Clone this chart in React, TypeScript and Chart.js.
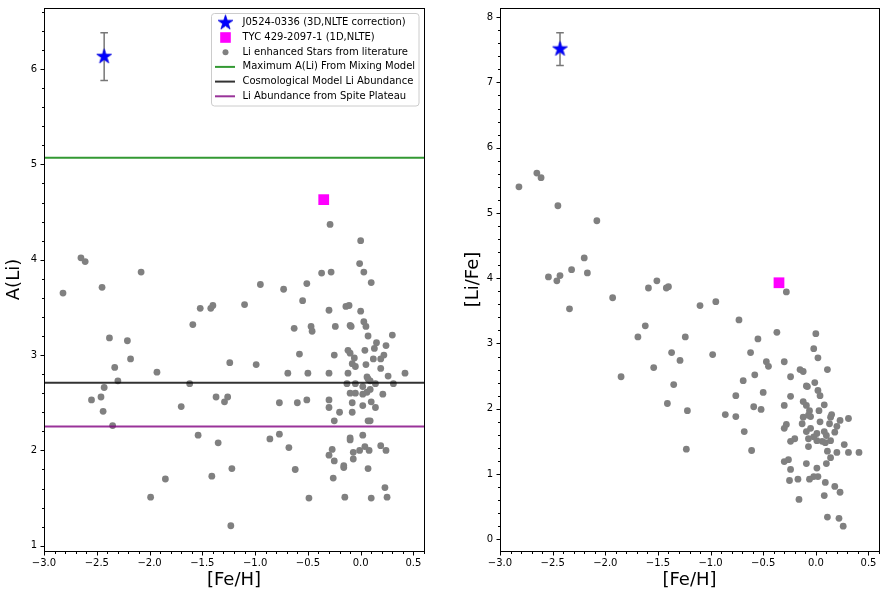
import React, { useEffect, useRef } from 'react';
import { Chart, registerables } from 'chart.js';

Chart.register(...registerables);

const FONT_FAMILY = '"DejaVu Sans", "Liberation Sans", sans-serif';

// ---------- Data ----------
// J0524-0336 (3D,NLTE correction)
const starFeH = [-2.43];
const starALi = [6.13];
const starLiFe = [7.51];
const starErr = [0.25];

// TYC 429-2097-1 (1D,NLTE)
const tycFeH = [-0.35];
const tycALi = [4.63];
const tycLiFe = [3.93];

// Li enhanced stars from literature: A(Li) vs [Fe/H]
const litFeH_ALi = [
  -2.65, -2.61, -2.08, -2.82, -2.45, -0.95, -0.73, -0.51, -0.37, -0.28,
  -0.29, 0.0, -0.01, 0.03, 0.1, -1.52, -1.59, -1.42, -1.4, -1.1,
  -0.55, -0.63, -0.47, -0.46, -0.24, -0.3, -0.14, -0.11, 0.0, 0.03,
  0.05, -0.1, -0.09, 0.07, 0.3, 0.15, 0.13, 0.24, 0.04, -0.12,
  -0.1, 0.22, 0.19, 0.12, -0.06, -0.08, -0.05, 0.05, 0.19, 0.42,
  0.26, 0.31, -0.12, -0.3, -0.5, -0.69, -0.58, -0.25, -0.99, -1.24,
  -1.93, -1.62, -2.3, -2.33, -2.18, -2.21, -2.38, -2.43, -2.55, -2.46,
  -2.44, -2.35, -1.7, -1.37, -1.26, -1.29, -0.77, -0.6, -0.51, -0.3,
  -0.3, -0.2, -0.25, -0.13, -0.05, 0.02, 0.06, 0.07, 0.09, 0.14,
  0.09, 0.06, 0.02, -0.05, -0.1, 0.21, -0.08, 0.02, 0.1, 0.14,
  -0.08, 0.07, 0.09, -1.54, -1.35, -0.86, -0.77, -0.68, -0.62, -1.22,
  -1.41, -1.85, -1.99, -1.23, -0.49, -0.3, -0.27, -0.25, -0.16, -0.16,
  -0.26, -0.15, -0.1, -0.1, 0.02, -0.07, -0.07, -0.01, 0.04, 0.08,
  0.07, 0.19, 0.24, 0.1, 0.23, 0.25,
];
const litALi = [
  4.02, 3.98, 3.87, 3.65, 3.71, 3.74, 3.69, 3.75, 3.86, 3.87,
  4.37, 4.2, 3.96, 3.87, 3.76, 3.49, 3.32, 3.49, 3.52, 3.53,
  3.57, 3.28, 3.3, 3.25, 3.3, 3.47, 3.51, 3.52, 3.46, 3.35,
  3.3, 3.31, 3.3, 3.2, 3.21, 3.13, 3.07, 3.1, 3.05, 3.05,
  3.02, 3.0, 2.96, 2.96, 2.97, 2.91, 2.88, 2.9, 2.86, 2.81,
  2.78, 2.7, 2.81, 2.81, 2.81, 2.81, 3.01, 3.0, 2.9, 2.92,
  2.82, 2.7, 2.73, 2.87, 2.96, 3.15, 3.18, 2.66, 2.53, 2.56,
  2.41, 2.26, 2.46, 2.56, 2.56, 2.51, 2.5, 2.5, 2.53, 2.53,
  2.45, 2.4, 2.31, 2.7, 2.7, 2.67, 2.77, 2.75, 2.73, 2.7,
  2.64, 2.61, 2.59, 2.6, 2.6, 2.59, 2.5, 2.47, 2.51, 2.45,
  2.4, 2.31, 2.31, 2.16, 2.08, 2.12, 2.17, 2.03, 1.8, 1.81,
  1.73, 1.7, 1.51, 1.21, 1.5, 1.95, 2.01, 1.89, 1.84, 1.82,
  1.71, 1.51, 2.13, 2.11, 2.16, 1.98, 1.91, 2.0, 2.04, 2.0,
  1.81, 2.05, 2.0, 1.5, 1.61, 1.51,
];

// Li enhanced stars from literature: [Li/Fe] vs [Fe/H]
const litFeH_LiFe = [
  -2.82, -2.65, -2.61, -2.45, -2.54, -2.46, -2.43, -2.32, -2.2, -2.17,
  -2.08, -1.93, -2.34, -1.85, -1.69, -1.62, -1.54, -1.59, -1.51, -1.42,
  -1.4, -0.95, -1.1, -0.73, -0.37, -0.28, -1.24, -1.37, -1.29, -1.35,
  -1.41, -1.22, -1.23, -0.98, -0.86, -0.76, -0.76, -0.68, -0.69, -0.62,
  -0.55, -0.58, -0.59, -0.61, -0.52, -0.5, -0.47, -0.45, -0.3, -0.24,
  -0.24, -0.3, -0.3, -0.28, -0.3, -0.26, -0.24, -0.2, -0.24, -0.25,
  -0.17, -0.16, -0.15, -0.12, -0.09, -0.08, -0.12, -0.09, -0.06, -0.12,
  -0.13, -0.07, -0.05, -0.09, -0.05, -0.07, -0.07, -0.09, -0.06, -0.02,
  0.02, 0.01, -0.02, 0.0, 0.02, 0.11, -0.01, 0.02, 0.04, 0.08,
  0.03, 0.04, 0.01, -0.02, 0.01, 0.08, 0.1, 0.06, 0.09, 0.14,
  0.15, 0.13, 0.14, 0.11, 0.14, 0.1, 0.09, 0.08, 0.11, 0.18,
  0.23, 0.22, 0.26, 0.2, 0.27, 0.31, 0.41, 0.31, 0.23, 0.2,
  0.18,
];
const litLiFe = [
  5.4, 5.61, 5.54, 5.11, 4.02, 3.96, 4.04, 4.13, 4.31, 4.08,
  4.88, 3.7, 3.53, 2.49, 3.1, 3.27, 2.63, 3.85, 3.96, 3.85,
  3.87, 3.64, 3.58, 3.36, 3.17, 3.79, 3.1, 2.86, 2.74, 2.37,
  2.08, 1.97, 1.38, 2.83, 1.91, 2.2, 1.88, 1.65, 2.43, 2.86,
  3.07, 2.52, 2.03, 1.36, 1.99, 2.25, 2.72, 2.65, 2.72, 2.49,
  2.19, 2.05, 1.7, 1.76, 1.19, 1.22, 1.5, 1.54, 1.07, 0.9,
  0.92, 0.61, 2.6, 2.57, 2.35, 2.34, 2.11, 2.05, 1.97, 1.87,
  1.77, 1.9, 1.88, 1.65, 1.7, 1.54, 1.42, 1.16, 0.92, 0.96,
  0.96, 1.09, 2.92, 3.15, 2.78, 2.6, 2.4, 2.28, 2.2, 2.06,
  1.97, 1.8, 1.62, 1.57, 1.51, 1.65, 1.59, 1.5, 1.48, 1.51,
  1.91, 1.77, 1.87, 1.35, 1.25, 1.16, 0.87, 0.67, 0.34, 0.81,
  0.72, 0.32, 0.2, 1.33, 1.45, 1.33, 1.33, 1.85, 1.82, 1.73,
  1.64,
];

// Reference abundance levels (A(Li))
const refLabels = [
  'Maximum A(Li) From Mixing Model',
  'Cosmological Model Li Abundance',
  'Li Abundance from Spite Plateau',
];
const refALi = [5.07, 2.71, 2.25];
const refColors = ['rgba(0,128,0,0.8)', 'rgba(0,0,0,0.8)', 'rgba(128,0,128,0.8)'];

const seriesLabels = [
  'J0524-0336 (3D,NLTE correction)',
  'TYC 429-2097-1 (1D,NLTE)',
  'Li enhanced Stars from literature',
];

// Axes
const xLimits = [-3.0, 0.6];
const xMajorTicks = [-3.0, -2.5, -2.0, -1.5, -1.0, -0.5, 0.0, 0.5];
const xMinorTicks = [
  -2.9, -2.8, -2.7, -2.6, -2.4, -2.3, -2.2, -2.1, -1.9, -1.8, -1.7, -1.6,
  -1.4, -1.3, -1.2, -1.1, -0.9, -0.8, -0.7, -0.6, -0.4, -0.3, -0.2, -0.1,
  0.1, 0.2, 0.3, 0.4, 0.6,
];
const yALiLimits = [0.945, 6.64];
const yALiTicks = [1, 2, 3, 4, 5, 6];
const yALiMinor = [
  1.2, 1.4, 1.6, 1.8, 2.2, 2.4, 2.6, 2.8, 3.2, 3.4, 3.6, 3.8, 4.2, 4.4, 4.6,
  4.8, 5.2, 5.4, 5.6, 5.8, 6.2, 6.4, 6.6,
];
const yLiFeLimits = [-0.18, 8.14];
const yLiFeTicks = [0, 1, 2, 3, 4, 5, 6, 7, 8];
const yLiFeMinor = [
  0.2, 0.4, 0.6, 0.8, 1.2, 1.4, 1.6, 1.8, 2.2, 2.4, 2.6, 2.8, 3.2, 3.4, 3.6,
  3.8, 4.2, 4.4, 4.6, 4.8, 5.2, 5.4, 5.6, 5.8, 6.2, 6.4, 6.6, 6.8, 7.2, 7.4,
  7.6, 7.8,
];

// ---------- Helpers ----------
function starImage(fill: string, R: number): HTMLCanvasElement {
  const r = R * 0.381966;
  const size = Math.ceil(R * 2 + 3);
  const c = document.createElement('canvas');
  c.width = size;
  c.height = size;
  const ctx = c.getContext('2d')!;
  const cx = size / 2;
  const cy = size / 2;
  ctx.beginPath();
  for (let i = 0; i < 10; i++) {
    const ang = -Math.PI / 2 + (i * Math.PI) / 5;
    const rad = i % 2 === 0 ? R : r;
    const px = cx + rad * Math.cos(ang);
    const py = cy + rad * Math.sin(ang);
    if (i === 0) ctx.moveTo(px, py);
    else ctx.lineTo(px, py);
  }
  ctx.closePath();
  ctx.fillStyle = fill;
  ctx.fill();
  ctx.strokeStyle = '#0000dd';
  ctx.lineWidth = 0.8;
  ctx.stroke();
  return c;
}

function fmtX(v: number): string {
  const s = Math.abs(v).toFixed(1);
  return v < -1e-9 ? '\u2212' + s : s;
}

type Panel = {
  yTitle: string;
  yLimits: number[];
  yTicks: number[];
  yMinor: number[];
  starY: number[];
  tycY: number[];
  litX: number[];
  litY: number[];
  showRefs: boolean;
  showLegend: boolean;
  yAxisWidth: number;
  padRight: number;
  yTitlePad: number;
};

function makeChart(canvas: HTMLCanvasElement, p: Panel, star: HTMLCanvasElement): Chart {
  const datasets: any[] = [];
  if (p.showRefs) {
    refALi.forEach((v, i) => {
      datasets.push({
        type: 'line',
        label: refLabels[i],
        data: [
          { x: xLimits[0], y: v },
          { x: xLimits[1], y: v },
        ],
        borderColor: refColors[i],
        backgroundColor: refColors[i],
        borderWidth: 2,
        pointRadius: 0,
        showLine: true,
        fill: false,
        order: 0,
      });
    });
  }
  datasets.push({
    type: 'scatter',
    label: seriesLabels[0],
    data: starFeH.map((x, i) => ({ x, y: p.starY[i] })),
    pointStyle: star,
    pointRadius: 8,
    backgroundColor: '#0000ff',
    borderWidth: 0,
    order: 1,
  });
  datasets.push({
    type: 'scatter',
    label: seriesLabels[1],
    data: tycFeH.map((x, i) => ({ x, y: p.tycY[i] })),
    pointStyle: 'rect',
    pointRadius: 7.6,
    backgroundColor: '#ff00ff',
    borderWidth: 0,
    order: 2,
  });
  datasets.push({
    type: 'scatter',
    label: seriesLabels[2],
    data: p.litX.map((x, i) => ({ x, y: p.litY[i] })),
    pointStyle: 'circle',
    pointRadius: 3.4,
    backgroundColor: '#808080',
    borderWidth: 0,
    order: 3,
  });

  const tickFont = { family: FONT_FAMILY, size: 10 };
  const titleFont = { family: FONT_FAMILY, size: 18 };

  const decor = {
    id: 'decor',
    beforeDatasetsDraw(chart: any) {
      const { ctx } = chart;
      const xs = chart.scales.x;
      const ys = chart.scales.y;
      ctx.save();
      ctx.strokeStyle = '#777777';
      ctx.lineWidth = 1.5;
      starFeH.forEach((fx, i) => {
        const px = xs.getPixelForValue(fx);
        const y1 = ys.getPixelForValue(p.starY[i] - starErr[i]);
        const y2 = ys.getPixelForValue(p.starY[i] + starErr[i]);
        ctx.beginPath();
        ctx.moveTo(px, y1);
        ctx.lineTo(px, y2);
        ctx.moveTo(px - 3.8, y1);
        ctx.lineTo(px + 3.8, y1);
        ctx.moveTo(px - 3.8, y2);
        ctx.lineTo(px + 3.8, y2);
        ctx.stroke();
      });
      ctx.restore();
    },
    afterDraw(chart: any) {
      const { ctx, chartArea: a } = chart;
      const xs = chart.scales.x;
      const ys = chart.scales.y;
      ctx.save();
      // frame
      ctx.strokeStyle = '#000';
      ctx.lineWidth = 1;
      ctx.strokeRect(a.left + 0.5, a.top + 0.5, a.right - a.left, a.bottom - a.top);
      // ticks
      ctx.beginPath();
      xMajorTicks.forEach((v) => {
        const px = Math.round(xs.getPixelForValue(v)) + 0.5;
        ctx.moveTo(px, a.bottom + 1);
        ctx.lineTo(px, a.bottom + 4.5);
      });
      xMinorTicks.forEach((v) => {
        const px = Math.round(xs.getPixelForValue(v)) + 0.5;
        ctx.moveTo(px, a.bottom + 1);
        ctx.lineTo(px, a.bottom + 3);
      });
      p.yTicks.forEach((v) => {
        const py = Math.round(ys.getPixelForValue(v)) + 0.5;
        ctx.moveTo(a.left - 3.5, py);
        ctx.lineTo(a.left, py);
      });
      p.yMinor.forEach((v) => {
        const py = Math.round(ys.getPixelForValue(v)) + 0.5;
        ctx.moveTo(a.left - 2, py);
        ctx.lineTo(a.left, py);
      });
      ctx.stroke();

      if (p.showLegend) {
        const bx = a.right - 212.5;
        const by = a.top + 5.5;
        const bw = 207.5;
        const bh = 92.5;
        ctx.beginPath();
        if ((ctx as any).roundRect) (ctx as any).roundRect(bx, by, bw, bh, 3);
        else ctx.rect(bx, by, bw, bh);
        ctx.fillStyle = 'rgba(255,255,255,0.8)';
        ctx.fill();
        ctx.strokeStyle = '#cccccc';
        ctx.lineWidth = 1;
        ctx.stroke();

        const mx = bx + 14;
        const tx = bx + 31;
        const rowY = (k: number) => by + 9.3 + k * 14.7;
        // star
        ctx.drawImage(star, mx - star.width / 2, rowY(0) - star.height / 2);
        // square
        ctx.fillStyle = '#ff00ff';
        ctx.fillRect(mx - 5.3, rowY(1) - 5.3, 10.6, 10.6);
        // circle
        ctx.fillStyle = '#808080';
        ctx.beginPath();
        ctx.arc(mx, rowY(2), 3.0, 0, Math.PI * 2);
        ctx.fill();
        // lines
        refColors.forEach((c, i) => {
          ctx.strokeStyle = c;
          ctx.lineWidth = 2;
          ctx.beginPath();
          ctx.moveTo(bx + 3.5, rowY(3 + i));
          ctx.lineTo(bx + 23.5, rowY(3 + i));
          ctx.stroke();
        });
        ctx.fillStyle = '#000';
        ctx.font = `10px ${FONT_FAMILY}`;
        ctx.textBaseline = 'middle';
        ctx.textAlign = 'left';
        const labels = [...seriesLabels, ...refLabels];
        labels.forEach((t, k) => ctx.fillText(t, tx, rowY(k)));
      }
      ctx.restore();
    },
  };

  return new Chart(canvas, {
    type: 'scatter',
    data: { datasets },
    options: {
      animation: false,
      responsive: false,
      devicePixelRatio: 1,
      events: [],
      layout: { padding: { left: 0, top: 7, right: p.padRight, bottom: 0 } },
      plugins: {
        legend: { display: false },
        tooltip: { enabled: false },
      },
      scales: {
        x: {
          type: 'linear',
          position: 'bottom',
          min: xLimits[0],
          max: xLimits[1],
          afterBuildTicks: (s: any) => {
            s.ticks = xMajorTicks.map((v) => ({ value: v }));
          },
          afterFit: (s: any) => {
            s.height = 47;
            s.paddingLeft = 0;
            s.paddingRight = 0;
          },
          grid: { display: false, drawTicks: false },
          border: { display: false },
          ticks: {
            padding: 6,
            color: '#000',
            font: tickFont,
            autoSkip: false,
            maxRotation: 0,
            callback: (v: any) => fmtX(Number(v)),
          },
          title: {
            display: true,
            text: '[Fe/H]',
            color: '#000',
            font: titleFont,
            padding: { top: 0, bottom: 7 },
          },
        },
        y: {
          type: 'linear',
          position: 'left',
          min: p.yLimits[0],
          max: p.yLimits[1],
          afterBuildTicks: (s: any) => {
            s.ticks = p.yTicks.map((v) => ({ value: v }));
          },
          afterFit: (s: any) => {
            s.width = p.yAxisWidth;
            s.paddingTop = 0;
            s.paddingBottom = 0;
          },
          grid: { display: false, drawTicks: false },
          border: { display: false },
          ticks: {
            padding: 7,
            color: '#000',
            font: tickFont,
            autoSkip: false,
            callback: (v: any) => String(Math.round(Number(v))),
          },
          title: {
            display: true,
            text: p.yTitle,
            color: '#000',
            font: titleFont,
            padding: { top: p.yTitlePad, bottom: 0 },
          },
        },
      },
    } as any,
    plugins: [decor],
  });
}

export default function App() {
  const leftRef = useRef<HTMLCanvasElement>(null);
  const rightRef = useRef<HTMLCanvasElement>(null);

  useEffect(() => {
    const star = starImage('#0000ff', 7.8);
    const left = makeChart(
      leftRef.current!,
      {
        yTitle: 'A(Li)',
        yLimits: yALiLimits,
        yTicks: yALiTicks,
        yMinor: yALiMinor,
        starY: starALi,
        tycY: tycALi,
        litX: litFeH_ALi,
        litY: litALi,
        showRefs: true,
        showLegend: true,
        yAxisWidth: 44,
        padRight: 16,
        yTitlePad: 4,
      },
      star,
    );
    const right = makeChart(
      rightRef.current!,
      {
        yTitle: '[Li/Fe]',
        yLimits: yLiFeLimits,
        yTicks: yLiFeTicks,
        yMinor: yLiFeMinor,
        starY: starLiFe,
        tycY: tycLiFe,
        litX: litFeH_LiFe,
        litY: litLiFe,
        showRefs: false,
        showLegend: false,
        yAxisWidth: 60,
        padRight: 6,
        yTitlePad: 23,
      },
      star,
    );
    return () => {
      left.destroy();
      right.destroy();
    };
  }, []);

  return (
    <div
      style={{
        position: 'absolute',
        left: 0,
        top: 0,
        width: 887,
        height: 598,
        background: '#ffffff',
      }}
    >
      <canvas
        ref={leftRef}
        width={440}
        height={598}
        style={{ position: 'absolute', left: 0, top: 0, width: 440, height: 598 }}
      />
      <canvas
        ref={rightRef}
        width={447}
        height={598}
        style={{ position: 'absolute', left: 440, top: 0, width: 447, height: 598 }}
      />
    </div>
  );
}
